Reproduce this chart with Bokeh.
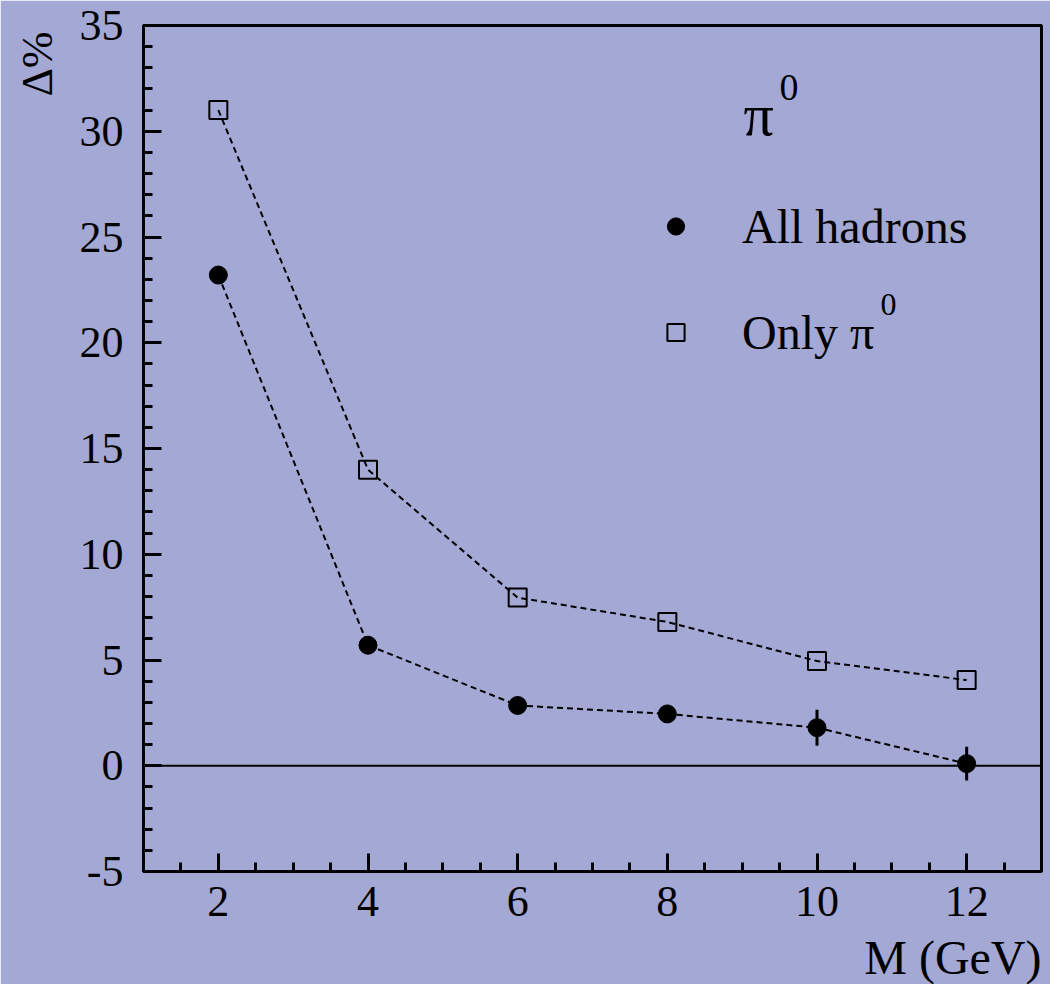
import numpy as np
from bokeh.plotting import figure
from bokeh.models import (Range1d, FixedTicker, Span, Whisker, ColumnDataSource,
                          Legend, LegendItem, Label, Title)
from bokeh.embed import file_html
from bokeh.resources import INLINE

# ---- data ----
mass = [2, 4, 6, 8, 10, 12]
all_hadrons = [23.2, 5.7, 2.85, 2.45, 1.8, 0.1]
all_hadrons_err = [0.3, 0.3, 0.3, 0.3, 0.85, 0.8]
only_pi0 = [31.0, 14.0, 7.95, 6.8, 4.95, 4.05]

x_major = [2, 4, 6, 8, 10, 12]
y_major = [-5, 0, 5, 10, 15, 20, 25, 30, 35]

FONT = "Liberation Serif"
BG = "#a3a8d4"

p = figure(width=1050, height=984, x_range=Range1d(1, 13), y_range=Range1d(-5, 35),
           output_backend="svg", toolbar_location=None,
           min_border_left=143, min_border_right=9, min_border_top=25, min_border_bottom=113)

p.background_fill_color = BG
p.border_fill_color = BG
p.outline_line_color = "black"
p.outline_line_width = 3
p.grid.visible = False

p.xaxis.ticker = FixedTicker(ticks=x_major, minor_ticks=list(np.arange(1.0, 13.01, 0.5)))
p.yaxis.ticker = FixedTicker(ticks=y_major, minor_ticks=list(np.arange(-5, 35.01, 1.0)))
p.yaxis.major_label_overrides = {-5: "-5"}

for ax in (p.xaxis, p.yaxis):
    ax.axis_line_width = 3
    ax.major_tick_in = 18
    ax.major_tick_out = 0
    ax.minor_tick_in = 9
    ax.minor_tick_out = 0
    ax.major_tick_line_width = 3
    ax.minor_tick_line_width = 3
    ax.major_label_text_font = FONT
    ax.major_label_text_font_size = "44px"
    ax.major_label_text_color = "black"
p.xaxis.major_label_standoff = 15
p.yaxis.major_label_standoff = 20

# spacers between the axes and their titles
p.add_layout(Title(text=" ", text_font_size="1px", standoff=14), "below")
p.add_layout(Title(text=" ", text_font_size="1px", standoff=7), "left")

# axis titles
p.add_layout(Title(text="M (GeV)", align="right", standoff=-14,
                   text_font=FONT, text_font_size="48px", text_font_style="normal",
                   text_color="black"), "below")
p.add_layout(Title(text="Δ%", align="right", offset=6, standoff=10,
                   text_font=FONT, text_font_size="44px", text_font_style="normal",
                   text_color="black"), "left")

# zero line
p.add_layout(Span(location=0, dimension="width", line_color="black", line_width=2))

# connecting dashed lines
p.line(mass, only_pi0, line_dash="6 4", line_width=2, line_color="black")
p.line(mass, all_hadrons, line_dash="6 4", line_width=2, line_color="black")

# error bars
err_src = ColumnDataSource(dict(
    x=mass,
    upper=[v + e for v, e in zip(all_hadrons, all_hadrons_err)],
    lower=[v - e for v, e in zip(all_hadrons, all_hadrons_err)],
))
p.add_layout(Whisker(base="x", upper="upper", lower="lower", source=err_src,
                     upper_head=None, lower_head=None, line_width=3, line_color="black"))

r_all = p.scatter(mass, all_hadrons, marker="circle", size=18,
                  fill_color="black", line_color="black")
r_pi = p.scatter(mass, only_pi0, marker="square", size=18,
                 fill_color=None, line_color="black", line_width=2)

legend = Legend(items=[LegendItem(label="All hadrons", renderers=[r_all]),
                       LegendItem(label="Only π", renderers=[r_pi])],
                location=(511, 509), glyph_width=43, glyph_height=60, label_height=60,
                spacing=46, padding=0, margin=0, label_standoff=45,
                background_fill_alpha=0, border_line_alpha=0,
                label_text_font=FONT, label_text_font_size="48px",
                label_text_color="black")
p.add_layout(legend)

def lab(text, x, y, size, **kw):
    p.add_layout(Label(text=text, x=x, y=y, x_units="screen", y_units="screen",
                       text_font=FONT, text_font_size=size, text_color="black", **kw))

lab("π", 600, 757, "60px", text_align="left", text_baseline="alphabetic")
lab("0", 636, 784, "38px", text_align="left", text_baseline="alphabetic")
lab("0", 737, 567, "32px", text_align="left", text_baseline="alphabetic")

open("out.html", "w").write(file_html(p, INLINE))
